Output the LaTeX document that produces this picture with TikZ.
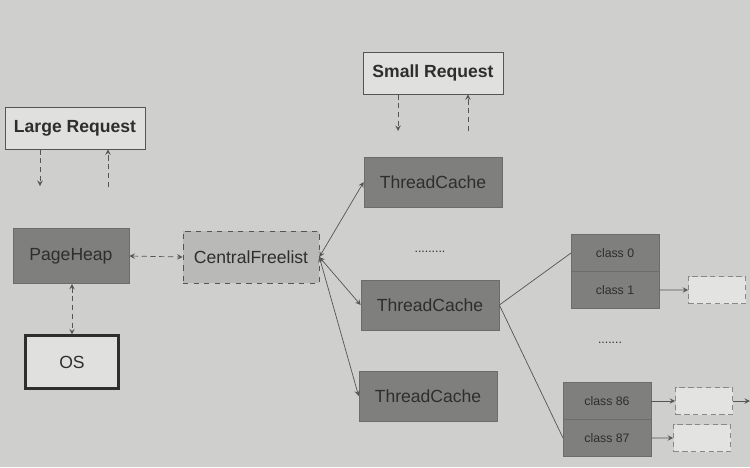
\documentclass[tikz,border=0pt]{standalone}
\usepackage{fontspec}
\setmainfont{Liberation Sans}
\usepackage{tikz}
\usetikzlibrary{positioning, shapes, calc, arrows}

\definecolor{page}{HTML}{CFCFCD}
\definecolor{darkbox}{HTML}{7F7F7E}
\definecolor{lightbox}{HTML}{B9B9B7}
\definecolor{paperbox}{HTML}{E0E0DE}
\definecolor{ink}{HTML}{2E2E2E}
\definecolor{inkline}{HTML}{555555}

\tikzset{
  request/.style={draw=inkline, fill=paperbox, text=ink, font=\bfseries, minimum width=2.8cm, minimum height=0.84cm},
  cache/.style={draw=darkbox!85!black, fill=darkbox, text=ink, minimum width=2.76cm, minimum height=1cm},
  heap/.style={draw=darkbox!85!black, fill=darkbox, text=ink, minimum width=2.32cm, minimum height=1.1cm},
  central/.style={draw=inkline, dashed, fill=lightbox, text=ink, minimum width=2.72cm, minimum height=1.04cm},
  osbox/.style={draw=ink, very thick, fill=paperbox, text=ink, minimum width=1.86cm, minimum height=1.06cm},
  sizeclass/.style={draw=darkbox!85!black, fill=darkbox, text=ink, font=\scriptsize, outer sep=0pt, minimum width=1.76cm, minimum height=0.74cm},
  spanbox/.style={draw=inkline!70, densely dashed, fill=paperbox!90!white, minimum width=1.14cm, minimum height=0.54cm},
  flow/.style={draw=inkline, densely dashed, thin},
  link/.style={draw=inkline, thin}
}

\begin{document}
\begin{tikzpicture}[x=0.02cm, y=-0.02cm, >=stealth]

\useasboundingbox (0,0) rectangle (750,467);
\fill[page] (0,0) rectangle (750,467);

%// requests
\node [request] (large) at (75,128) {Large Request};
\node [request] (small) at (433,73) {Small Request};

\coordinate (lrin) at (40,186);
\coordinate (lrout) at (108,187);
\draw [flow,->] (large.south -| lrin) -- (lrin);
\draw [flow,->] (lrout) -- (large.south -| lrout);

\coordinate (srin) at (398,131);
\coordinate (srout) at (468,131);
\draw [flow,->] (small.south -| srin) -- (srin);
\draw [flow,->] (srout) -- (small.south -| srout);

%// heap, central list, os
\node [heap] (heap) at (71,256) {PageHeap};
\node [central] (cfl) at (251,257) {CentralFreelist};
\node [osbox] (os) at (72,362) {OS};

\draw [flow,<->] (heap.east) -- (cfl.west);
\draw [flow,<->] (heap.south -| os) -- (os.north);

%// thread caches
\foreach \n/\x/\y in {1/433/182, 2/430/305, 3/428/396}
  \node [cache] (tc\n) at (\x,\y) {ThreadCache};

\foreach \n in {1,2,3}
  \draw [link,<->] (cfl.east) -- (tc\n.west);

\node [font=\scriptsize, text=ink] (dotsa) at (430,252) {.........};

%// size classes
\node [sizeclass] (c0) at (615,253) {class 0};
\node [sizeclass, below=0pt of c0] (c1) {class 1};
\node [sizeclass] (c86) at (607,401) {class 86};
\node [sizeclass, below=0pt of c86] (c87) {class 87};

\node [font=\scriptsize, text=ink] (dotsb) at (610,343) {.......};

\draw [link] (tc2.east) -- (c0.west);
\draw [link] (tc2.east) -- (c87.west);

%// spans
\node [spanbox] (s1) at (717,290) {};
\node [spanbox] (s86) at (704,401) {};
\node [spanbox] (s87) at (702,438) {};

\draw [link,->] (c1.east) -- (s1.west);
\draw [link,->] (c86.east) -- (s86.west);
\draw [link,->] (c87.east) -- (s87.west);

\coordinate (rim) at (750,401);
\draw [link,->] (s86.east) -- (rim);

\end{tikzpicture}
\end{document}
